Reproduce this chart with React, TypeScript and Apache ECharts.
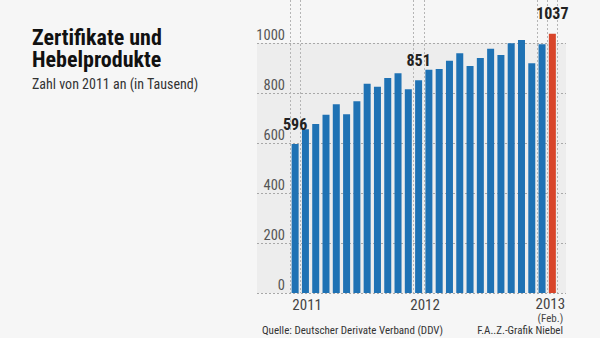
import React, { useEffect, useRef } from "react";
import * as echarts from "echarts";

const months = [
  "Jan 2011", "Feb 2011", "Mär 2011", "Apr 2011", "Mai 2011", "Jun 2011",
  "Jul 2011", "Aug 2011", "Sep 2011", "Okt 2011", "Nov 2011", "Dez 2011",
  "Jan 2012", "Feb 2012", "Mär 2012", "Apr 2012", "Mai 2012", "Jun 2012",
  "Jul 2012", "Aug 2012", "Sep 2012", "Okt 2012", "Nov 2012", "Dez 2012",
  "Jan 2013", "Feb 2013",
];
const values = [
  596, 655, 676, 713, 755, 715, 767, 837, 825, 860, 879, 815,
  851, 893, 896, 929, 959, 908, 940, 977, 952, 999, 1012, 919,
  995, 1037,
];
const labeledIndices = [0, 12, 25];
const highlightIndex = 25;
const yearMarkIndices = [0, 1, 12, 13, 24, 25];
const xLabelMap: Record<number, string> = {
  0: "{a|2011}",
  12: "{b|2012}",
  25: "{c|2013}\n{d|(Feb.)}",
};
const yTicks = { min: 0, max: 1000, interval: 200 };

const FONT = "'Roboto Condensed', 'Liberation Sans Narrow', Roboto, sans-serif";

export default function App() {
  const ref = useRef<HTMLDivElement>(null);
  useEffect(() => {
    document.body.style.margin = "0";
    const chart = echarts.init(ref.current!, null, { renderer: "svg" });
    const data = values.map((v, i) => ({
      value: v,
      itemStyle: { color: i === highlightIndex ? "#d8452a" : "#1f72b4" },
      label: { show: labeledIndices.includes(i) },
    }));
    chart.setOption({
      animation: false,
      backgroundColor: "#f6f6f6",
      textStyle: { fontFamily: FONT },
      title: [
        {
          text: "Zertifikate und\nHebelprodukte",
          left: 27,
          top: 21,
          textStyle: { fontFamily: FONT, fontSize: 22, fontWeight: "bold", color: "#111", lineHeight: 22.5 },
        },
        {
          text: "Zahl von 2011 an (in Tausend)",
          left: 27,
          top: 72,
          textStyle: { fontFamily: FONT, fontSize: 14, fontWeight: "normal", color: "#333" },
        },
        {
          text: "Quelle: Deutscher Derivate Verband (DDV)",
          left: 257,
          top: 320,
          textStyle: { fontFamily: FONT, fontSize: 11, fontWeight: "normal", color: "#333" },
        },
        {
          text: "F.A..Z.-Grafik Niebel",
          right: 32,
          top: 320,
          textStyle: { fontFamily: FONT, fontSize: 11, fontWeight: "normal", color: "#333" },
        },
      ],
      grid: [
        { left: 257, width: 309, top: 43, height: 250, show: true, backgroundColor: "#ededed", borderWidth: 0 },
        { left: 290, width: 267.5, top: 43, height: 250 },
        { left: 290, width: 267.5, top: 0, height: 293 },
      ],
      xAxis: [
        { gridIndex: 0, type: "value", show: false, min: 0, max: 1 },
        {
          gridIndex: 1,
          type: "category",
          data: months,
          axisLine: { show: false },
          axisTick: { show: false },
          splitLine: { show: false },
          axisLabel: {
            interval: 0,
            margin: 3,
            formatter: (_v: string, i: number) => xLabelMap[i] ?? "",
            rich: {
              a: { fontFamily: FONT, fontSize: 15, color: "#444", padding: [2, 0, 0, 24], lineHeight: 16 },
              b: { fontFamily: FONT, fontSize: 15, color: "#444", padding: [2, 0, 0, 13], lineHeight: 16 },
              c: { fontFamily: FONT, fontSize: 15, color: "#444", padding: [0, 4, 0, 0], lineHeight: 16 },
              d: { fontFamily: FONT, fontSize: 11, color: "#444", padding: [0, 4, 0, 0], lineHeight: 12 },
            },
          },
        },
        {
          gridIndex: 2,
          type: "category",
          data: months,
          axisLine: { show: false },
          axisTick: { show: false },
          axisLabel: { show: false },
          splitLine: {
            show: true,
            interval: (i: number) => yearMarkIndices.includes(i),
            lineStyle: { color: "#b5b5b5", type: [2, 2], width: 1 },
          },
        },
      ],
      yAxis: [
        {
          gridIndex: 0,
          type: "value",
          ...yTicks,
          axisLine: { show: false },
          axisTick: { show: false },
          axisLabel: { show: false },
          splitLine: { show: true, lineStyle: { color: "#a8a8a8", type: [2, 2], width: 1 } },
        },
        {
          gridIndex: 1,
          type: "value",
          ...yTicks,
          axisLine: { show: false },
          axisTick: { show: false },
          splitLine: { show: false },
          axisLabel: {
            margin: 5,
            verticalAlign: "bottom",
            formatter: (v: number) => String(v),
            fontFamily: FONT,
            fontSize: 14.5,
            color: "#555",
            lineHeight: 15,
          },
        },
        { gridIndex: 2, type: "value", show: false, min: 0, max: 1 },
      ],
      series: [
        {
          type: "bar",
          xAxisIndex: 1,
          yAxisIndex: 1,
          data,
          barWidth: 7,
          clip: false,
          label: {
            position: "top",
            distance: 12,
            fontFamily: FONT,
            fontSize: 16,
            fontWeight: "bold",
            color: "#222",
          },
        },
      ],
    });
    return () => chart.dispose();
  }, []);
  return <div ref={ref} style={{ position: "fixed", left: 0, top: 0, width: 600, height: 338 }} />;
}
